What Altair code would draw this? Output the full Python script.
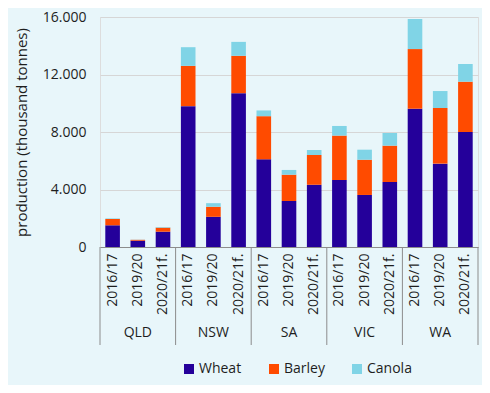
import altair as alt
import pandas as pd

states = ["QLD", "NSW", "SA", "VIC", "WA"]
years = ["2016/17", "2019/20", "2020/21f."]
crops = ["Wheat", "Barley", "Canola"]
crop_colors = ["#24009a", "#ff4b00", "#80d4e6"]

# order: state-major, year-minor
wheat = [1510, 440, 1065, 9800, 2100, 10700, 6100, 3200, 4330, 4660, 3620, 4520, 9620, 5800, 8000]
barley = [440, 60, 280, 2800, 700, 2600, 3000, 1830, 2070, 3090, 2450, 2530, 4150, 3870, 3500]
canola = [40, 10, 40, 1300, 250, 970, 400, 330, 350, 670, 700, 880, 2090, 1180, 1230]

series = {"Wheat": wheat, "Barley": barley, "Canola": canola}
keys = []
rows = []
for i, s in enumerate(states):
    for j, y in enumerate(years):
        k = i * 3 + j
        key = s + "|" + y
        keys.append(key)
        for o, c in enumerate(crops):
            rows.append({"key": key, "state": s, "year": y, "crop": c,
                         "value": series[c][k], "o": o})
df = pd.DataFrame(rows)

# group separators and group label positions (in group-index units)
sep_df = pd.DataFrame({"pos": list(range(len(states) + 1))})
lab_df = pd.DataFrame({"pos": [i + 0.5 for i in range(len(states))], "state": states})

W = 378
H = 230
GREY = "#8c8c8c"
TXT = "#1e1e1e"

bars = alt.Chart(df).mark_bar().encode(
    x=alt.X("key:N", sort=keys, title=None,
            scale=alt.Scale(paddingInner=0.42, paddingOuter=0.21),
            axis=alt.Axis(labelAngle=-90, ticks=False, domainColor=GREY,
                          labelExpr="split(datum.label, '|')[1]",
                          labelFontSize=14, labelPadding=6, labelColor=TXT)),
    y=alt.Y("value:Q", title="production (thousand tonnes)",
            scale=alt.Scale(domain=[0, 16000]),
            axis=alt.Axis(values=[0, 4000, 8000, 12000, 16000],
                          labelExpr="replace(format(datum.value, ',.0f'), ',', '.')",
                          domain=False, ticks=False, gridColor="#d6d6d6",
                          labelFontSize=14, labelColor=TXT, labelPadding=14,
                          titleFontSize=15, titleFontWeight="normal",
                          titleColor=TXT, titlePadding=13)),
    color=alt.Color("crop:N", scale=alt.Scale(domain=crops, range=crop_colors),
                    legend=alt.Legend(title=None, orient="none", direction="horizontal",
                                      legendX=82, legendY=345,
                                      symbolType="square", symbolSize=100,
                                      symbolStrokeWidth=0, labelFontSize=14,
                                      labelColor=TXT, columnPadding=25,
                                      labelOffset=3)),
    order=alt.Order("o:Q"),
)

gscale = alt.Scale(domain=[0, len(states)])

seps = alt.Chart(sep_df).mark_rule(color=GREY, strokeWidth=1).encode(
    x=alt.X("pos:Q", scale=gscale, axis=None),
    y=alt.value(H), y2=alt.value(H + 98))

labels = alt.Chart(lab_df).mark_text(fontSize=14, color=TXT, baseline="middle").encode(
    x=alt.X("pos:Q", scale=gscale, axis=None),
    y=alt.value(H + 86), text="state:N")

chart = (
    alt.layer(bars, alt.layer(seps, labels))
    .resolve_scale(x="independent")
    .properties(width=W, height=H,
                autosize=alt.AutoSizeParams(type="none"),
                padding={"left": 92, "top": 9, "right": 4, "bottom": 138})
    .configure_view(stroke=None)
    .configure(background="#e8f6fa", font="Open Sans")
)

chart.save("out.html", embed_options={"renderer": "svg", "actions": False})
